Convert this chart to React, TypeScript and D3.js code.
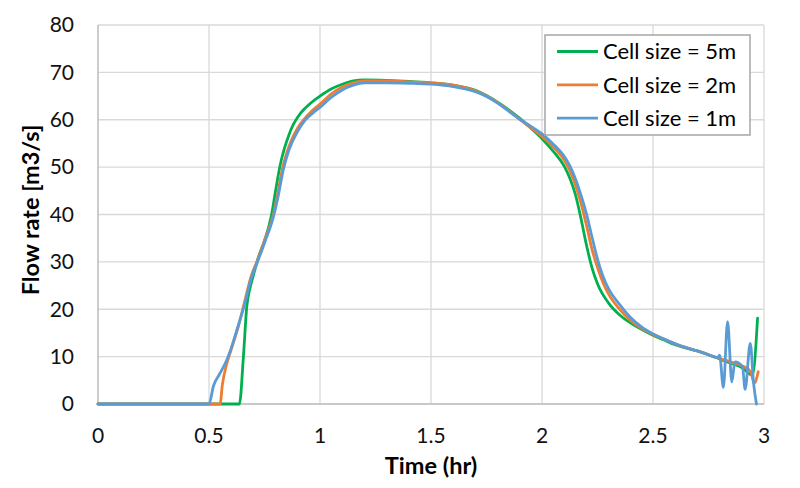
import React from 'react';
import * as d3 from 'd3';

// [time (hr), flow rate (m3/s)]
const cell5m: [number, number][] = [
  [0, 0], [0.3, 0], [0.637, 0], [0.655, 10], [0.67, 20.5], [0.685, 24.5], [0.7, 27.2],
  [0.72, 30.6], [0.75, 34.5], [0.78, 39.5], [0.8, 45], [0.82, 50.3], [0.84, 54],
  [0.86, 56.8], [0.88, 59], [0.9, 60.6], [0.93, 62.3], [0.96, 63.6], [1.0, 65],
  [1.05, 66.5], [1.1, 67.5], [1.15, 68.2], [1.2, 68.4], [1.3, 68.3], [1.4, 68.1],
  [1.5, 67.8], [1.6, 67.3], [1.7, 66.2], [1.75, 65.1], [1.8, 63.7], [1.85, 62.1],
  [1.9, 60.3], [1.95, 58.2], [2.0, 56], [2.05, 53.4], [2.1, 50.2], [2.125, 47.7],
  [2.15, 44.3], [2.175, 39.3], [2.2, 33.6], [2.225, 28.8], [2.25, 25.4], [2.3, 21.3],
  [2.35, 18.8], [2.4, 17.1], [2.45, 15.7], [2.5, 14.5], [2.55, 13.5], [2.6, 12.5],
  [2.65, 11.8], [2.7, 11.2], [2.75, 10.4], [2.8, 9.5], [2.85, 8.6], [2.9, 7.7],
  [2.948, 6.1], [2.971, 18.1],
];

const cell2m: [number, number][] = [
  [0, 0], [0.3, 0], [0.55, 0], [0.56, 4], [0.58, 8.5], [0.6, 11.5], [0.63, 16],
  [0.66, 21.5], [0.69, 27], [0.72, 30.5], [0.75, 34.5], [0.79, 40], [0.81, 44.5],
  [0.83, 49.5], [0.85, 53], [0.87, 55.5], [0.9, 58.3], [0.93, 60.2], [0.96, 61.7],
  [1.0, 63.3], [1.05, 65.4], [1.1, 66.9], [1.15, 67.8], [1.2, 68.2], [1.3, 68.2],
  [1.4, 68], [1.5, 67.8], [1.6, 67.3], [1.7, 66.1], [1.75, 65], [1.8, 63.6],
  [1.85, 61.9], [1.9, 60.1], [1.95, 58.3], [2.0, 56.5], [2.05, 54.3], [2.1, 51.5],
  [2.125, 49.3], [2.15, 46.3], [2.175, 42.5], [2.2, 37.8], [2.225, 32.7], [2.25, 28.8],
  [2.275, 25.6], [2.3, 23.2], [2.35, 20], [2.4, 17.6], [2.45, 15.9], [2.5, 14.7],
  [2.55, 13.7], [2.6, 12.7], [2.65, 11.9], [2.7, 11.2], [2.75, 10.4], [2.8, 9.6],
  [2.85, 8.9], [2.9, 8.1], [2.94, 6.8], [2.956, 4.4], [2.974, 6.8],
];

const cell1m: [number, number][] = [
  [0, 0], [0.3, 0], [0.5, 0], [0.52, 3.8], [0.55, 6.5], [0.58, 9.3], [0.6, 11.8],
  [0.63, 16.3], [0.66, 21], [0.69, 26.5], [0.72, 30.2], [0.75, 34], [0.79, 39.5],
  [0.81, 43.5], [0.835, 49.5], [0.86, 53.6], [0.9, 57.6], [0.934, 60], [0.97, 61.5],
  [1.0, 62.6], [1.05, 64.7], [1.1, 66.3], [1.15, 67.3], [1.2, 67.8], [1.3, 67.8],
  [1.4, 67.7], [1.5, 67.5], [1.6, 67], [1.7, 65.9], [1.75, 64.9], [1.8, 63.5],
  [1.85, 61.8], [1.9, 60.1], [1.95, 58.6], [2.0, 57], [2.05, 54.9], [2.1, 52.3],
  [2.125, 50.3], [2.15, 47.6], [2.175, 44.2], [2.2, 40.2], [2.225, 35.3], [2.25, 30.6],
  [2.275, 26.9], [2.3, 24.3], [2.35, 21], [2.4, 18.2], [2.45, 16.2], [2.5, 14.8],
  [2.55, 13.7], [2.6, 12.7], [2.65, 11.9], [2.7, 11.2], [2.75, 10.4], [2.79, 9.8],
  [2.8, 10.3], [2.817, 3.5], [2.836, 17.4], [2.855, 4.7], [2.869, 8.9],
  [2.903, 7.9], [2.915, 3.1], [2.938, 12.8], [2.953, 4.4], [2.966, 0],
];

const seriesNames = ['Cell size = 5m', 'Cell size = 2m', 'Cell size = 1m'];
const seriesColors = ['#00B050', '#ED7D31', '#5B9BD5'];
const xTicks = [0, 0.5, 1, 1.5, 2, 2.5, 3];
const yTicks = [0, 10, 20, 30, 40, 50, 60, 70, 80];

const W = 800;
const H = 488;
const plot = { left: 98, right: 764, top: 25, bottom: 404 };
const font = 'Lato, "Open Sans", sans-serif';

export default function App() {
  const x = d3.scaleLinear().domain([0, 3]).range([plot.left, plot.right]);
  const y = d3.scaleLinear().domain([0, 80]).range([plot.bottom, plot.top]);
  const line = d3
    .line<[number, number]>()
    .x((d) => x(d[0]))
    .y((d) => y(d[1]))
    .curve(d3.curveMonotoneX);

  const allSeries = [cell5m, cell2m, cell1m];
  const legend = { x: 545, y: 35, w: 205, h: 100 };

  return (
    <div style={{ position: 'absolute', left: 0, top: 0 }}>
      <svg width={W} height={H} style={{ display: 'block', background: '#fff' }}>
        {/* grid */}
        {yTicks.map((t) => (
          <line key={'gy' + t} x1={plot.left} x2={plot.right} y1={y(t)} y2={y(t)}
            stroke="#d9d9d9" strokeWidth={1.3} />
        ))}
        {xTicks.map((t) => (
          <line key={'gx' + t} x1={x(t)} x2={x(t)} y1={plot.top} y2={plot.bottom}
            stroke="#d9d9d9" strokeWidth={1.3} />
        ))}
        <line x1={plot.left} x2={plot.left} y1={plot.top} y2={plot.bottom} stroke="#bfbfbf" strokeWidth={1.3} />
        <line x1={plot.left} x2={plot.right} y1={plot.bottom} y2={plot.bottom} stroke="#bfbfbf" strokeWidth={1.3} />

        {/* tick labels */}
        {yTicks.map((t) => (
          <text key={'ly' + t} x={74} y={y(t)} dy="0.35em" textAnchor="end"
            fontFamily={font} fontSize={21} fill="#111">{t}</text>
        ))}
        {xTicks.map((t) => (
          <text key={'lx' + t} x={x(t)} y={436} dy="0.35em" textAnchor="middle"
            fontFamily={font} fontSize={21} fill="#111">{t}</text>
        ))}

        {/* axis titles */}
        <text x={431} y={466} dy="0.35em" textAnchor="middle" fontFamily={font}
          fontSize={23.5} fontWeight="bold" fill="#000">Time (hr)</text>
        <text transform={`translate(31, 210) rotate(-90)`} dy="0.35em" textAnchor="middle"
          fontFamily={font} fontSize={23.5} fontWeight="bold" fill="#000">Flow rate [m3/s]</text>

        {/* series */}
        {allSeries.map((s, i) => (
          <path key={'s' + i} d={line(s) ?? ''} fill="none" stroke={seriesColors[i]}
            strokeWidth={2.8} strokeLinejoin="round" strokeLinecap="round" />
        ))}

        {/* legend */}
        <rect x={legend.x} y={legend.y} width={legend.w} height={legend.h}
          fill="#fff" stroke="#a6a6a6" strokeWidth={1.5} />
        {seriesNames.map((name, i) => {
          const ly = 51.5 + i * 33.3;
          return (
            <g key={'lg' + i}>
              <line x1={557} x2={598} y1={ly} y2={ly} stroke={seriesColors[i]} strokeWidth={2.8} />
              <text x={603} y={ly} dy="0.35em" fontFamily={font} fontSize={22} fill="#000">{name}</text>
            </g>
          );
        })}
      </svg>
    </div>
  );
}
